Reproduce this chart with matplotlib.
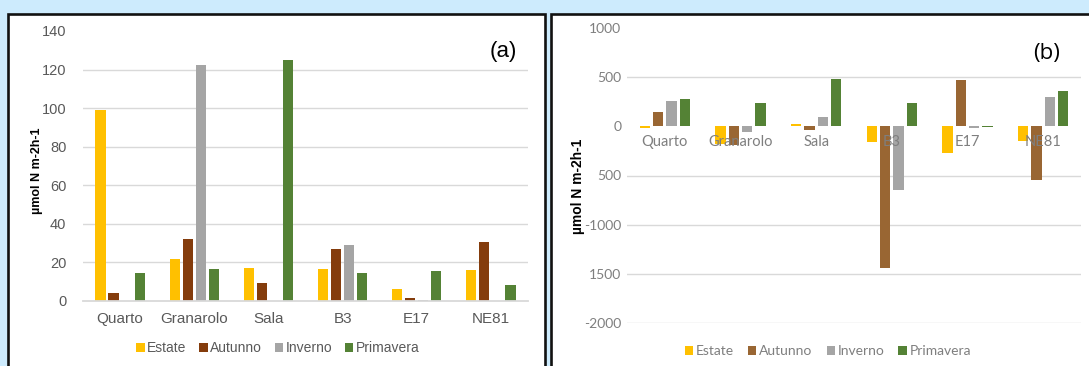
import matplotlib
matplotlib.use("Agg")
import matplotlib.pyplot as plt
from matplotlib.patches import Rectangle
import numpy as np

# ---------------- data ----------------
sites = ["Quarto", "Granarolo", "Sala", "B3", "E17", "NE81"]
seasons = ["Estate", "Autunno", "Inverno", "Primavera"]

# panel (a)
a_estate = [99, 22, 17.2, 16.7, 6.3, 16.1]
a_autunno = [4.2, 32.2, 9.4, 27, 1.7, 30.7]
a_inverno = [0, 122.5, 0, 29, 0.5, 0]
a_primavera = [14.5, 16.7, 125, 14.5, 15.6, 8.4]

# panel (b)
b_estate = [-20, -183, 23, -160, -270, -150]
b_autunno = [150, -190, -41, -1440, 475, -545]
b_inverno = [262, -62, 91, -648, -20, 294]
b_primavera = [283, 233, 485, 233, -8, 364]

a_yticks = [0, 20, 40, 60, 80, 100, 120, 140]
b_yticks = [1000, 500, 0, -500, -1000, -1500, -2000]
b_yticklabels = ["1000", "500", "0", "500", "-1000", "1500", "-2000"]

ylabel = "µmol N m-2h-1"

col_a = ["#FFC000", "#843C0C", "#A5A5A5", "#548235"]
col_b = ["#FFC000", "#996633", "#A5A5A5", "#548235"]

W, H = 1089, 366
fig = plt.figure(figsize=(W / 100, H / 100), dpi=100)
fig.patch.set_facecolor("#CDEBFD")

def fx(px):
    return px / W

def fy(py):
    return 1 - py / H

# panel backgrounds and borders
fig.patches.append(Rectangle((fx(8), fy(400)), fx(537), fy(14) - fy(400),
                             transform=fig.transFigure, facecolor="white",
                             edgecolor="#111111", linewidth=1.9, zorder=-5))
fig.patches.append(Rectangle((fx(551), fy(400)), fx(600), fy(14) - fy(400),
                             transform=fig.transFigure, facecolor="white",
                             edgecolor="#111111", linewidth=1.9, zorder=-5))

x = np.arange(len(sites))
pitch = 0.176
bw = 0.137
offs = (np.arange(4) - 1.5) * pitch

# ---------------- panel (a) ----------------
axA = fig.add_axes([fx(83), fy(301), fx(528) - fx(83), fy(31) - fy(301)])
axA.set_facecolor("none")
for i, vals in enumerate([a_estate, a_autunno, a_inverno, a_primavera]):
    axA.bar(x + offs[i], vals, width=bw, color=col_a[i], label=seasons[i], zorder=2)
axA.set_xlim(-0.5, len(sites) - 0.5)
axA.set_ylim(0, 140)
axA.set_yticks(a_yticks)
axA.set_yticklabels([str(t) for t in a_yticks], fontfamily="Liberation Sans",
                    fontsize=10.5, color="#595959")
axA.set_xticks(x)
axA.set_xticklabels(sites, fontfamily="Liberation Sans", fontsize=11, color="#595959")
axA.tick_params(axis="both", length=0)
axA.tick_params(axis="y", pad=12)
axA.tick_params(axis="x", pad=8)
for s in ["top", "right", "left"]:
    axA.spines[s].set_visible(False)
axA.spines["bottom"].set_color("#D9D9D9")
axA.spines["bottom"].set_linewidth(1.3)
for t in a_yticks[1:-1]:
    axA.axhline(t, color="#D9D9D9", linewidth=1.0, zorder=1)
axA.text(fx(37), fy(171), ylabel, transform=fig.transFigure, rotation=90,
         ha="center", va="center", fontsize=9, fontweight="bold",
         fontfamily="Liberation Sans", color="black")
axA.text(fx(503), fy(52), "(a)", transform=fig.transFigure, ha="center",
         va="center", fontsize=16, fontfamily="Liberation Sans", color="black")
legA = fig.legend(*axA.get_legend_handles_labels(), loc="center",
                  bbox_to_anchor=(fx(278), fy(348)), ncol=4, frameon=False,
                  prop={"family": "Liberation Sans", "size": 10},
                  handlelength=0.6, handleheight=0.6, handletextpad=0.2,
                  columnspacing=0.9, labelcolor="#595959")

# ---------------- panel (b) ----------------
axB = fig.add_axes([fx(627), fy(323), fx(1081) - fx(627), fy(28) - fy(323)])
axB.set_facecolor("none")
for i, vals in enumerate([b_estate, b_autunno, b_inverno, b_primavera]):
    axB.bar(x + offs[i], vals, width=bw, color=col_b[i], label=seasons[i], zorder=2)
axB.set_xlim(-0.5, len(sites) - 0.5)
axB.set_ylim(-2000, 1000)
axB.set_yticks(b_yticks)
axB.set_yticklabels(b_yticklabels, fontfamily="Lato", fontsize=10, color="#7F7F7F")
axB.set_xticks([])
axB.tick_params(axis="both", length=0)
axB.tick_params(axis="y", pad=4)
for s in ["top", "right", "left", "bottom"]:
    axB.spines[s].set_visible(False)
for t in b_yticks:
    if t in (1000, 0):
        continue
    axB.axhline(t, color="#D9D9D9", linewidth=1.0, zorder=1)
for i, name in enumerate(sites):
    axB.annotate(name, xy=(i, 0), xytext=(0, -16), textcoords="offset pixels",
                 ha="center", va="center", fontsize=10.5, fontfamily="Lato",
                 color="#7F7F7F", zorder=5)
axB.text(fx(578), fy(186), ylabel, transform=fig.transFigure, rotation=90,
         ha="center", va="center", fontsize=10, fontweight="bold",
         fontfamily="Liberation Sans", color="black")
axB.text(fx(1047), fy(53), "(b)", transform=fig.transFigure, ha="center",
         va="center", fontsize=16, fontfamily="Open Sans", color="black")
legB = fig.legend(*axB.get_legend_handles_labels(), loc="center",
                  bbox_to_anchor=(fx(828), fy(351)), ncol=4, frameon=False,
                  prop={"family": "Lato", "size": 10},
                  handlelength=0.6, handleheight=0.6, handletextpad=0.2,
                  columnspacing=1.0, labelcolor="#7F7F7F")

fig.savefig("out.png", dpi=100, facecolor=fig.get_facecolor())
